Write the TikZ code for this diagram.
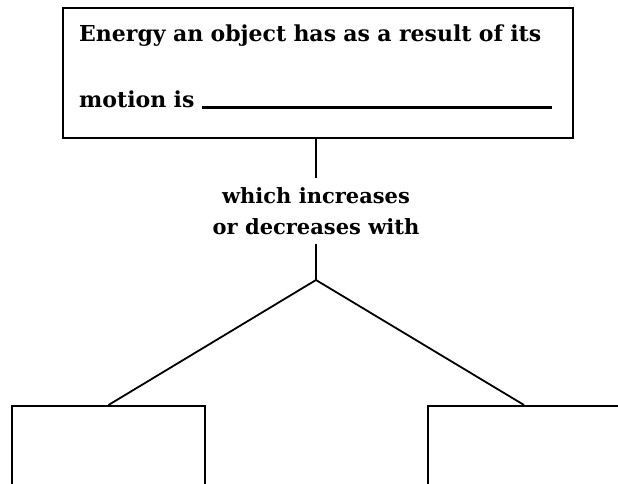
\documentclass[tikz,border=0pt]{standalone}
\usepackage{fontspec}
\setmainfont{DejaVu Serif}
\usetikzlibrary{positioning}

\begin{document}
\begin{tikzpicture}[x=1pt,y=1pt,
  box/.style={draw, line width=2.2pt, inner sep=0pt},
  link/.style={line width=1.8pt},
  words/.style={font=\bfseries\fontsize{21}{31}\selectfont, align=center}]
\useasboundingbox (0,0) rectangle (618,-484);
% Question box
\node[box, anchor=north west, minimum width=510pt, minimum height=130pt] (top) at (62,-7) {};
\node[font=\bfseries\fontsize{22}{66}\selectfont, text width=473pt, align=left, anchor=base west, inner sep=0pt] (question) at (79,-42)
  {Energy an object has as a result of its\\motion is \leaders\hrule height 1.6pt depth 0.6pt\hskip 0pt plus 1fill\null};
% Linking words
\node[words, anchor=north, inner ysep=9pt] (mid) at (316,-178) {which increases\\or decreases with};
\coordinate (hub) at (316,-280);
\draw[link] (mid.north) -- (mid.north |- top.south);
\draw[link] (mid.south) -- (hub);
% Answer boxes
\node[box, anchor=north, minimum width=193pt, minimum height=90pt] (leftbox) at (108.5,-405) {};
\node[box, anchor=north, minimum width=192pt, minimum height=90pt] (rightbox) at (524,-405) {};
\draw[link] (hub) -- (leftbox.north);
\draw[link] (hub) -- (rightbox.north);
\end{tikzpicture}
\end{document}
